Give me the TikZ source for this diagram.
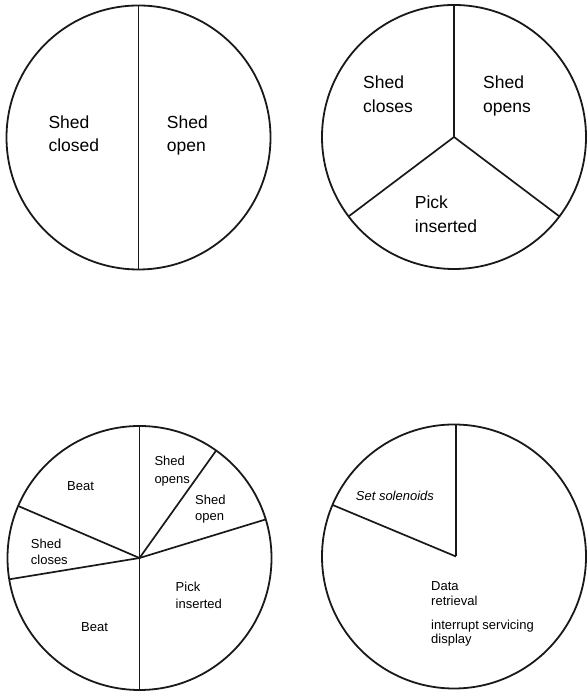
\documentclass[tikz,border=0pt]{standalone}
\usepackage{fontspec}
\setmainfont{Liberation Sans}
\usetikzlibrary{calc}
\begin{document}
\begin{tikzpicture}[x=1pt,y=1pt,
  rim/.style={draw=black!90, line width=1.8pt},
  spoke/.style={draw=black!90, line width=1.7pt},
  biglbl/.style={anchor=base west, inner sep=0pt, font=\fontsize{17.5}{21}\selectfont},
  smalllbl/.style={anchor=base west, inner sep=0pt, font=\fontsize{13}{16}\selectfont}]
\useasboundingbox (0,0) rectangle (586,692);
\def\R{132}

% --- two-phase cycle
\coordinate (c1) at (138.5,554.5);
\draw[rim] (c1) circle (\R);
\coordinate (c1top) at ($(c1)+(90:\R)$);
\coordinate (c1bot) at ($(c1)+(270:\R)$);
\draw[spoke] (c1top) -- (c1bot);
\node[biglbl] (t1a) at (48.3,563.7) {Shed};
\node[biglbl] (t1b) at (48.3,540.3) {closed};
\node[biglbl] (t1c) at (166.7,563.7) {Shed};
\node[biglbl] (t1d) at (166.7,540.3) {open};

% --- three-phase cycle
\coordinate (c2) at (454,555);
\draw[rim] (c2) circle (\R);
\coordinate (c2a) at ($(c2)+(90:\R)$);
\coordinate (c2b) at ($(c2)+(217:\R)$);
\coordinate (c2c) at ($(c2)+(323:\R)$);
\draw[spoke] (c2) -- (c2a);
\draw[spoke] (c2) -- (c2b);
\draw[spoke] (c2) -- (c2c);
\node[biglbl] (t2a) at (363,603.7) {Shed};
\node[biglbl] (t2b) at (363,579.7) {closes};
\node[biglbl] (t2c) at (483,603.7) {Shed};
\node[biglbl] (t2d) at (483,579.7) {opens};
\node[biglbl] (t2e) at (414.7,483.7) {Pick};
\node[biglbl] (t2f) at (414.7,459.7) {inserted};

% --- six-phase cycle
\coordinate (c3) at (139.5,134);
\draw[rim] (c3) circle (\R);
\foreach \a [count=\i] in {90,54.5,17,270,189.3,156.8}{
  \coordinate (c3r\i) at ($(c3)+(\a:\R)$);
  \draw[spoke] (c3) -- (c3r\i);
}
\node[smalllbl] (t3a) at (67,201.3) {Beat};
\node[smalllbl] (t3b) at (154.3,226) {Shed};
\node[smalllbl] (t3c) at (154.3,208.7) {opens};
\node[smalllbl] (t3d) at (195,187.7) {Shed};
\node[smalllbl] (t3e) at (195,171) {open};
\node[smalllbl] (t3f) at (30.7,143) {Shed};
\node[smalllbl] (t3g) at (30.7,127) {closes};
\node[smalllbl] (t3h) at (175.5,100.3) {Pick};
\node[smalllbl] (t3i) at (175.5,83.7) {inserted};
\node[smalllbl] (t3j) at (81,60.3) {Beat};

% --- processor time split
\coordinate (c4) at (454,135.5);
\coordinate (hub) at (456,135.5);
\draw[rim] (c4) circle (\R);
\coordinate (c4a) at ($(hub)+(0,\R)$);
\coordinate (c4b) at ($(c4)+(157:\R)$);
\draw[spoke] (hub) -- (c4a);
\draw[spoke] (hub) -- (c4b);
\node[smalllbl, font=\fontsize{13}{16}\selectfont\itshape] (t4a) at (355.7,191.3) {Set solenoids};
\node[smalllbl] (t4b) at (431,101.3) {Data};
\node[smalllbl] (t4c) at (431,86) {retrieval};
\node[smalllbl] (t4d) at (431,62.7) {interrupt servicing};
\node[smalllbl] (t4e) at (431,48.7) {display};
\end{tikzpicture}
\end{document}
